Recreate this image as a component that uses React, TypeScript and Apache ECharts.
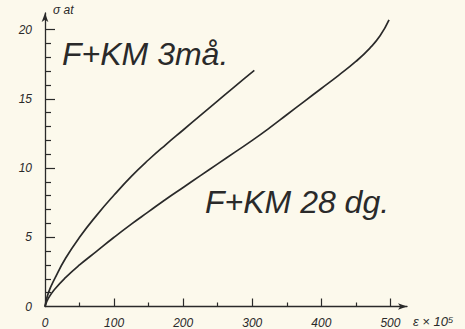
import React, { useEffect, useRef } from 'react';
import * as echarts from 'echarts';

// Curve F+KM 3 månader
const strain3: number[] = [0, 5, 15, 30, 50, 75, 100, 125, 150, 175, 200, 225, 250, 275, 303];
const stress3: number[] = [0, 1.0, 2.1, 3.5, 5.0, 6.6, 8.05, 9.4, 10.6, 11.7, 12.75, 13.8, 14.85, 15.9, 17.05];
// Curve F+KM 28 dagar
const strain28: number[] = [0, 5, 15, 30, 50, 75, 100, 125, 150, 175, 200, 225, 250, 275, 300, 325, 350, 375, 400, 425, 450, 470, 485, 498];
const stress28: number[] = [0, 0.6, 1.3, 2.1, 3.0, 4.0, 5.0, 5.95, 6.85, 7.75, 8.6, 9.45, 10.3, 11.15, 12.0, 12.9, 13.85, 14.8, 15.75, 16.7, 17.7, 18.65, 19.55, 20.7];

const xMajorTicks: number[] = [100, 200, 300, 400, 500];
const xLabels: number[] = [0, 100, 200, 300, 400, 500];
const xMinorTicks: number[] = [50, 150, 250, 350, 450];
const yMajorTicks: number[] = [5, 10, 15, 20];
const yLabels: number[] = [0, 5, 10, 15, 20];
const yMinorTicks: number[] = [1, 2, 3, 4, 6, 7, 8, 9, 11, 12, 13, 14, 16, 17, 18, 19];

const label3 = 'F+KM 3må.';
const label28 = 'F+KM 28 dg.';
const yName = 'σ at';
const xName = 'ε × 10⁵';

const INK = '#2a2a2a';
const FONT = '"Liberation Sans", "DejaVu Sans", sans-serif';

export default function App() {
  const ref = useRef<HTMLDivElement>(null);
  useEffect(() => {
    if (!ref.current) return;
    const chart = echarts.init(ref.current, null, { renderer: 'svg' });
    const zip = (xs: number[], ys: number[]) => xs.map((x, i) => [x, ys[i]]);
    const xMin = 0, xMax = 524, yMin = 0, yMax = 21.2;
    const axisText = { color: INK, fontStyle: 'italic' as const, fontFamily: FONT, fontSize: 12 };
    chart.setOption({
      animation: false,
      backgroundColor: '#fcf9ec',
      grid: { left: 45, right: 58, top: 13, bottom: 22.5, containLabel: false },
      xAxis: [
        {
          type: 'value', min: xMin, max: xMax, position: 'bottom',
          axisLine: { show: true, symbol: ['none', 'arrow'], symbolSize: [5, 9], lineStyle: { color: INK, width: 1.3 } },
          axisTick: { show: true, inside: true, length: 8, customValues: xMajorTicks, lineStyle: { color: INK, width: 1.2 } },
          axisLabel: { show: true, customValues: xLabels, margin: 10, ...axisText },
          splitLine: { show: false },
        },
        {
          type: 'value', min: xMin, max: xMax, position: 'bottom',
          axisLine: { show: false },
          axisTick: { show: true, inside: true, length: 4, customValues: xMinorTicks, lineStyle: { color: INK, width: 1.2 } },
          axisLabel: { show: false },
          splitLine: { show: false },
        },
      ],
      yAxis: [
        {
          type: 'value', min: yMin, max: yMax, position: 'left',
          axisLine: { show: true, symbol: ['none', 'arrow'], symbolSize: [5, 9], lineStyle: { color: INK, width: 1.3 } },
          axisTick: { show: true, inside: true, length: 10, customValues: yMajorTicks, lineStyle: { color: INK, width: 1.2 } },
          axisLabel: { show: true, customValues: yLabels, margin: 13, ...axisText },
          splitLine: { show: false },
        },
        {
          type: 'value', min: yMin, max: yMax, position: 'left',
          axisLine: { show: false },
          axisTick: { show: true, inside: true, length: 6, customValues: yMinorTicks, lineStyle: { color: INK, width: 1.2 } },
          axisLabel: { show: false },
          splitLine: { show: false },
        },
      ],
      series: [
        {
          name: label3, type: 'line', xAxisIndex: 0, yAxisIndex: 0,
          data: zip(strain3, stress3), smooth: 0.5, showSymbol: false,
          lineStyle: { color: INK, width: 1.7 },
        },
        {
          name: label28, type: 'line', xAxisIndex: 0, yAxisIndex: 0,
          data: zip(strain28, stress28), smooth: 0.5, showSymbol: false,
          lineStyle: { color: INK, width: 1.7 },
        },
      ],
      graphic: [
        { type: 'text', left: 62, top: 38, style: { text: label3, fill: INK, font: `italic 32px ${FONT}` } },
        { type: 'text', left: 205, top: 186, style: { text: label28, fill: INK, font: `italic 32px ${FONT}` } },
        { type: 'text', left: 53, top: 4, style: { text: yName, fill: INK, font: `italic 12px ${FONT}` } },
        { type: 'text', left: 413, top: 315, style: { text: xName, fill: INK, font: `italic 13px ${FONT}` } },
      ],
    });
    return () => chart.dispose();
  }, []);
  return <div ref={ref} style={{ position: 'absolute', left: 0, top: 0, width: 465, height: 329 }} />;
}
